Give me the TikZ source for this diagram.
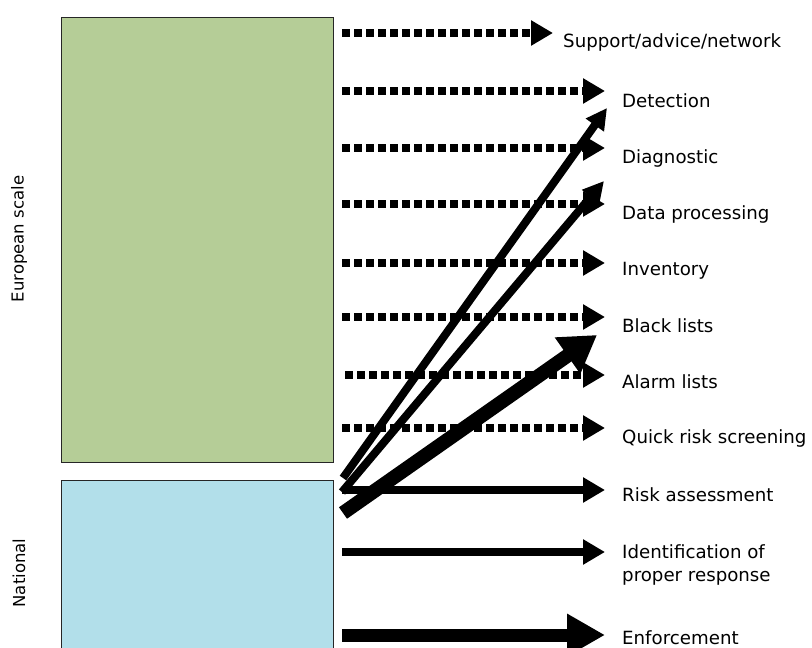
\documentclass[tikz,border=0pt]{standalone}
\usepackage{fontspec}
\setmainfont{DejaVu Sans}
\usetikzlibrary{arrows.meta}
\definecolor{eugreen}{HTML}{B5CD97}
\definecolor{natblue}{HTML}{B2DFEA}
\begin{document}
\begin{tikzpicture}[x=1pt,y=-1pt,
  lbl/.style={anchor=base west,font=\fontsize{18.2}{23}\selectfont,inner sep=0pt,align=left},
  side/.style={font=\fontsize{16.5}{23}\selectfont,inner sep=0pt,rotate=90},
  box/.style={draw=black!85,line width=1pt,inner sep=0pt,anchor=north west},
  dotarrow/.style={line width=8pt,dash pattern=on 8pt off 4pt,-{Triangle[length=22pt,width=24pt]}},
  solidarrow/.style={line width=8pt,-{Triangle[length=22pt,width=24pt]}},
  diagarrow/.style={line width=8pt,-{Triangle[length=21pt,width=21pt]}},
  thickarrow/.style={line width=13pt,-{Triangle[length=38pt,width=40pt]}},
  thickdiag/.style={line width=14pt,-{Triangle[length=36pt,width=42pt]}},
]
\useasboundingbox (0,0) rectangle (812,648);
% boxes
\node[box,fill=eugreen,minimum width=272pt,minimum height=445pt] (eu) at (61,17) {};
\node[box,fill=natblue,minimum width=272pt,minimum height=175pt] (nat) at (61,480) {};
% side labels
\node[side] (eulbl) at (19,239) {European scale};
\node[side] (natlbl) at (19,573) {National};
% right labels
\node[lbl] (l1) at (563,47) {Support/advice/network};
\node[lbl] (l2) at (622,107) {Detection};
\node[lbl] (l3) at (622,163) {Diagnostic};
\node[lbl] (l4) at (622,219) {Data processing};
\node[lbl] (l5) at (622,275) {Inventory};
\node[lbl] (l6) at (622,332) {Black lists};
\node[lbl] (l7) at (622,388) {Alarm lists};
\node[lbl] (l8) at (622,443) {Quick risk screening};
\node[lbl] (l9) at (622,501) {Risk assessment};
\node[lbl] (l10) at (622,581) {Identification of\\proper response};
\node[lbl] (l11) at (622,644) {Enforcement};
% coordinates for dotted arrows
\coordinate (s1) at (342,33);  \coordinate (e1) at (553,33);
\coordinate (s2) at (342,91);  \coordinate (e2) at (605,91);
\coordinate (s3) at (342,148); \coordinate (e3) at (605,148);
\coordinate (s4) at (342,204); \coordinate (e4) at (605,204);
\coordinate (s5) at (342,263); \coordinate (e5) at (605,263);
\coordinate (s6) at (342,317); \coordinate (e6) at (605,317);
\coordinate (s7) at (345,375); \coordinate (e7) at (605,375);
\coordinate (s8) at (342,428); \coordinate (e8) at (605,428);
\foreach \i in {1,...,8} {\draw[dotarrow] (s\i) -- (e\i);}
% solid horizontal arrows
\coordinate (s9) at (342,490);  \coordinate (e9) at (605,490);
\coordinate (s10) at (342,552); \coordinate (e10) at (605,552);
\coordinate (s11) at (342,635); \coordinate (e11) at (605,635);
\draw[solidarrow] (s9) -- (e9);
\draw[solidarrow] (s10) -- (e10);
\draw[thickarrow] (s11) -- (e11);
% diagonal arrows
\coordinate (d1s) at (343,478); \coordinate (d1e) at (607,108);
\coordinate (d2s) at (342,492); \coordinate (d2e) at (604,181);
\coordinate (d3s) at (343,513); \coordinate (d3e) at (597,335);
\draw[diagarrow] (d1s) -- (d1e);
\draw[diagarrow] (d2s) -- (d2e);
\draw[thickdiag] (d3s) -- (d3e);
\end{tikzpicture}
\end{document}
